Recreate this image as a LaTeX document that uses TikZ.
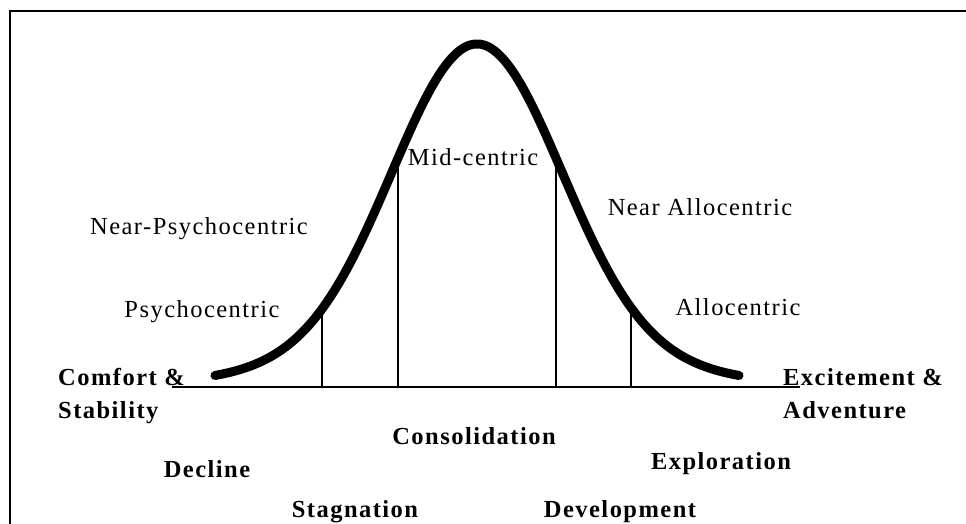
\documentclass[tikz,border=0pt]{standalone}
\usepackage{fontspec}
\newfontfamily\lblreg{Liberation Serif}[LetterSpace=6]
\newfontfamily\lblbold{Liberation Serif}[LetterSpace=6,BoldFont={Liberation Serif Bold}]
\begin{document}
\begin{tikzpicture}[x=1pt,y=-1pt,
  declare function={bell(\t)=387-308*exp(-(\t/100)*(\t/100)/1.4112)-35*exp(-(\t/100)*(\t/100)/5.12);},
  typelbl/.style={font=\lblreg\fontsize{24.5}{33}\selectfont, inner sep=0pt, anchor=base},
  stagelbl/.style={font=\lblbold\bfseries\fontsize{24.5}{33}\selectfont, inner sep=0pt, anchor=base},
  axisline/.style={line width=2.5pt, black},
  divline/.style={line width=2pt, black},
  bellcurve/.style={line width=9pt, line cap=round, line join=round, black},
  frameline/.style={line width=2.5pt, black}]
\useasboundingbox (0,0) rectangle (966,524);
% frame (only top and left edges visible)
\draw[frameline] (10,540) -- (10,11) -- (980,11);
% axis
\coordinate (axL) at (172,387);
\coordinate (axR) at (800,387);
\draw[axisline] (axL) -- (axR);
% dividers
\coordinate (d1t) at (322,{bell(-155)}); \coordinate (d1b) at (322,387);
\coordinate (d2t) at (398,{bell(-79)});  \coordinate (d2b) at (398,387);
\coordinate (d3t) at (556,{bell(79)});   \coordinate (d3b) at (556,387);
\coordinate (d4t) at (631,{bell(154)});  \coordinate (d4b) at (631,387);
\draw[divline] (d1t) -- (d1b);
\draw[divline] (d2t) -- (d2b);
\draw[divline] (d3t) -- (d3b);
\draw[divline] (d4t) -- (d4b);
% bell curve
\draw[bellcurve] plot[domain=-262:262, samples=131, smooth] ({477+\x},{bell(\x)});
% type labels
\node[typelbl] (nearpsy) at (199,234) {Near-Psychocentric};
\node[typelbl] (psy) at (202,317) {Psychocentric};
\node[typelbl] (mid) at (473,165) {Mid-centric};
\node[typelbl] (nearallo) at (700,215) {Near Allocentric};
\node[typelbl] (allo) at (738,315) {Allocentric};
% stage labels
\node[stagelbl, anchor=base west] (comfort) at (58,385) {Comfort \&};
\node[stagelbl, anchor=base west] (stability) at (58,418) {Stability};
\node[stagelbl, anchor=base west] (excite) at (783,385) {Excitement \&};
\node[stagelbl, anchor=base west] (advent) at (783,418) {Adventure};
\node[stagelbl] (consol) at (474,444) {Consolidation};
\node[stagelbl] (decline) at (207,477) {Decline};
\node[stagelbl] (explore) at (721,469) {Exploration};
\node[stagelbl] (stag) at (355,517) {Stagnation};
\node[stagelbl] (devel) at (620,517) {Development};
\end{tikzpicture}
\end{document}
